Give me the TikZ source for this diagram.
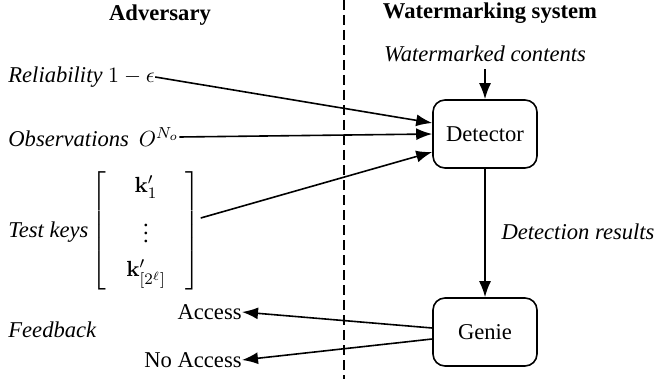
\documentclass[tikz,border=0pt]{standalone}
\usepackage{amsmath}
\usepackage[no-math]{fontspec}
\setmainfont{Liberation Serif}
\usetikzlibrary{arrows.meta}
\begin{document}
\begin{tikzpicture}[x=0.5pt,y=-0.5pt,
  every node/.style={font=\fontsize{11.3}{13.6}\selectfont},
  blk/.style={draw, line width=0.8pt, rounded corners=6pt, minimum width=52pt, minimum height=34pt},
  arr/.style={line width=0.8pt, -{Latex[length=8pt,width=6pt]}},
  lbl/.style={font=\fontsize{11.3}{13.6}\selectfont\itshape},
  hd/.style={font=\fontsize{11.3}{13.6}\selectfont\bfseries}]
\useasboundingbox (0,0) rectangle (656,379);
\coordinate (dtop) at (344,0);
\coordinate (dbot) at (344,379);
\draw[line width=0.8pt, dash pattern=on 5pt off 2.5pt] (dtop) -- (dbot);

\node[hd] (adv) at (160,15) {Adversary};
\node[hd] (wms) at (490,13) {Watermarking system};
\node[lbl] (wc) at (485,54) {Watermarked contents};
\node[blk] (det) at (485,134) {Detector};
\node[blk] (gen) at (485,332) {Genie};
\node[lbl] (dr) at (578,232) {Detection results};
\node[lbl, anchor=west, inner sep=0] (rel) at (8,77) {Reliability $1-\epsilon$};
\node[lbl, anchor=west, inner sep=0] (obs) at (8,137) {Observations\hspace{5pt}$O^{N_o}$};
\node[lbl, anchor=west, inner sep=0] (tk) at (8,232) {Test keys};
\node[inner sep=0] (mat) at (146,231) {$\left[\hspace{5pt}\begin{array}{c} \mathbf{k}'_1 \\[6pt] \vdots \\[3pt] \mathbf{k}'_{[2^\ell]} \end{array}\hspace{5pt}\right]$};
\node[anchor=east, inner sep=0] (acc) at (242,312) {Access};
\node[anchor=east, inner sep=0] (nacc) at (242,360) {No Access};
\node[lbl, anchor=west, inner sep=0] (fb) at (8,330) {Feedback};

\draw[arr] (wc.south) -- (det.north);
\draw[arr] (rel.east) -- ([yshift=5.5pt]det.west);
\draw[arr] (obs.east) -- (det.west);
\draw[arr] ([yshift=6.5pt]mat.east) -- ([yshift=-9pt]det.west);
\draw[arr] (det) -- (gen);
\draw[arr] ([yshift=2pt]gen.west) -- (acc.east);
\draw[arr] ([yshift=-3.5pt]gen.west) -- (nacc.east);
\end{tikzpicture}
\end{document}
